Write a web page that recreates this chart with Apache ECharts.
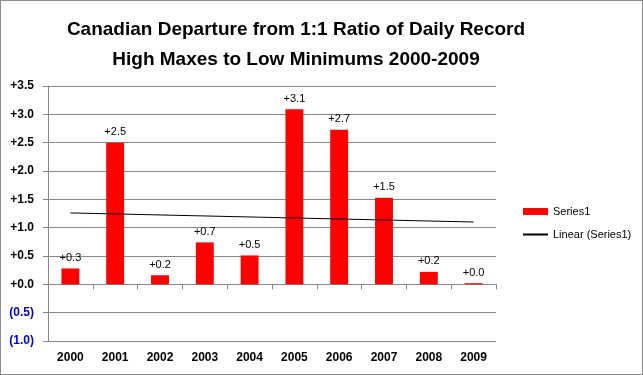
<!DOCTYPE html>
<html>
<head>
<meta charset="utf-8">
<script src="https://cdn.jsdelivr.net/npm/echarts@6/dist/echarts.min.js"></script>
<style>
  html, body { margin: 0; padding: 0; background: #fff; }
  #chart { width: 643px; height: 375px; box-sizing: border-box; border: 1px solid #8c8c8c; }
</style>
</head>
<body>
<div id="chart"></div>
<script>
// values
const years = ["2000", "2001", "2002", "2003", "2004", "2005", "2006", "2007", "2008", "2009"];
const departures = [0.28, 2.5, 0.16, 0.74, 0.51, 3.09, 2.73, 1.53, 0.22, 0.02];
const trendYears = ["2000", "2009"];
const trendValues = [1.26, 1.1];
const yTickLabels = ["(1.0)", "(0.5)", "+0.0", "+0.5", "+1.0", "+1.5", "+2.0", "+2.5", "+3.0", "+3.5"];

const gridColor = "#868686";
const font = "'Liberation Sans', Arial, sans-serif";

const chart = echarts.init(document.getElementById("chart"));
chart.setOption({
  animation: false,
  textStyle: { fontFamily: font },
  title: {
    text: "Canadian Departure from 1:1 Ratio of Daily Record\nHigh Maxes to Low Minimums 2000-2009",
    left: 290,
    textAlign: "center",
    top: 9,
    textStyle: {
      fontFamily: font,
      fontSize: 19,
      fontWeight: "bold",
      color: "#000",
      lineHeight: 30,
    },
  },
  legend: {
    orient: "vertical",
    left: 516,
    top: 200,
    itemWidth: 25,
    itemHeight: 7,
    itemGap: 12,
    textStyle: { fontSize: 11, color: "#000", fontFamily: font },
    data: [
      { name: "Series1", icon: "rect" },
      { name: "Linear (Series1)", itemStyle: { opacity: 0 } },
    ],
  },
  grid: { left: 47, right: 146, top: 85, bottom: 33 },
  xAxis: [
    {
      type: "category",
      data: years,
      position: "bottom",
      axisLine: { show: false, onZero: false },
      axisTick: { show: false },
      axisLabel: { margin: 11, fontSize: 12, fontWeight: "bold", color: "#000", interval: 0 },
    },
    {
      type: "category",
      data: years,
      axisLine: { show: true, onZero: true, lineStyle: { color: gridColor } },
      axisTick: { show: true, inside: true, length: 5, lineStyle: { color: gridColor } },
      axisLabel: { show: false },
    },
  ],
  yAxis: {
    type: "value",
    min: -1,
    max: 3.5,
    interval: 0.5,
    axisLine: { show: true, lineStyle: { color: gridColor } },
    axisTick: { show: true, length: 5, lineStyle: { color: gridColor } },
    splitLine: { lineStyle: { color: gridColor } },
    axisLabel: {
      margin: 14,
      fontSize: 12,
      fontWeight: "bold",
      formatter: (v, i) => yTickLabels[i],
      color: (v) => (v < 0 ? "#0000cc" : "#000"),
    },
  },
  series: [
    {
      name: "Series1",
      type: "bar",
      xAxisIndex: 0,
      data: departures,
      barWidth: "40%",
      itemStyle: { color: "#ff0000" },
      label: {
        show: true,
        position: "top",
        distance: 5,
        fontSize: 11,
        color: "#000",
        formatter: (p) => "+" + p.value.toFixed(1),
      },
    },
    {
      name: "Linear (Series1)",
      type: "line",
      xAxisIndex: 0,
      data: trendYears.map((y, i) => [y, trendValues[i]]),
      symbol: "none",
      lineStyle: { color: "#000", width: 1 },
      itemStyle: { color: "#000" },
      z: 5,
    },
  ],
});
</script>
</body>
</html>
